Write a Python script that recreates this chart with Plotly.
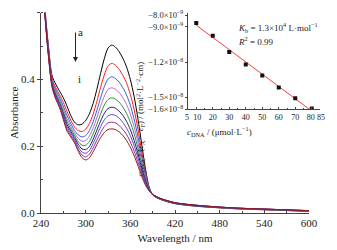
import numpy as np
import plotly.graph_objects as go

# ---------------- main spectra data ----------------
wavelength = [240, 245, 250, 255, 260, 265, 270, 275, 280, 285, 290, 295, 300, 305, 310,
              315, 320, 325, 330, 335, 340, 345, 350, 355, 360, 365, 370, 375, 380, 385,
              390, 400, 420, 450, 500, 550, 600]

abs_a = [0.800, 0.620, 0.500, 0.410, 0.385, 0.365, 0.345, 0.320, 0.292, 0.272, 0.264, 0.266, 0.277, 0.297, 0.328,
         0.370, 0.418, 0.462, 0.494, 0.503, 0.497, 0.483, 0.463, 0.437, 0.400, 0.350, 0.285, 0.210, 0.137, 0.080,
         0.054, 0.041, 0.028, 0.020, 0.013, 0.009, 0.005]
abs_b = [0.796, 0.616, 0.493, 0.402, 0.375, 0.354, 0.331, 0.304, 0.278, 0.258, 0.247, 0.244, 0.251, 0.268, 0.296,
         0.334, 0.376, 0.413, 0.440, 0.448, 0.443, 0.430, 0.412, 0.389, 0.355, 0.311, 0.254, 0.188, 0.126, 0.077,
         0.055, 0.042, 0.029, 0.021, 0.013, 0.009, 0.005]
abs_c = [0.792, 0.612, 0.489, 0.397, 0.368, 0.346, 0.320, 0.292, 0.268, 0.248, 0.234, 0.228, 0.232, 0.247, 0.273,
         0.307, 0.345, 0.378, 0.401, 0.408, 0.403, 0.392, 0.375, 0.353, 0.323, 0.282, 0.231, 0.173, 0.117, 0.075,
         0.055, 0.043, 0.029, 0.021, 0.014, 0.010, 0.006]
abs_d = [0.790, 0.610, 0.485, 0.392, 0.362, 0.340, 0.312, 0.282, 0.259, 0.240, 0.224, 0.215, 0.217, 0.230, 0.254,
         0.286, 0.320, 0.349, 0.370, 0.375, 0.371, 0.361, 0.345, 0.325, 0.296, 0.259, 0.213, 0.160, 0.110, 0.073,
         0.055, 0.043, 0.030, 0.022, 0.014, 0.010, 0.006]
abs_e = [0.787, 0.607, 0.481, 0.388, 0.357, 0.334, 0.304, 0.273, 0.252, 0.233, 0.214, 0.203, 0.203, 0.214, 0.237,
         0.266, 0.296, 0.323, 0.340, 0.345, 0.341, 0.332, 0.317, 0.298, 0.272, 0.238, 0.196, 0.148, 0.104, 0.072,
         0.055, 0.043, 0.030, 0.022, 0.014, 0.010, 0.006]
abs_f = [0.785, 0.605, 0.478, 0.384, 0.352, 0.328, 0.297, 0.265, 0.245, 0.226, 0.206, 0.192, 0.190, 0.199, 0.221,
         0.248, 0.275, 0.298, 0.313, 0.317, 0.314, 0.305, 0.292, 0.274, 0.250, 0.218, 0.180, 0.137, 0.099, 0.070,
         0.055, 0.044, 0.030, 0.022, 0.015, 0.011, 0.007]
abs_g = [0.783, 0.603, 0.475, 0.381, 0.348, 0.324, 0.291, 0.258, 0.239, 0.221, 0.198, 0.183, 0.179, 0.187, 0.208,
         0.233, 0.258, 0.279, 0.291, 0.295, 0.292, 0.284, 0.271, 0.254, 0.232, 0.202, 0.167, 0.129, 0.094, 0.069,
         0.055, 0.044, 0.031, 0.023, 0.015, 0.011, 0.007]
abs_h = [0.782, 0.602, 0.472, 0.378, 0.344, 0.319, 0.285, 0.251, 0.233, 0.215, 0.191, 0.174, 0.168, 0.176, 0.195,
         0.218, 0.240, 0.259, 0.270, 0.272, 0.270, 0.262, 0.250, 0.235, 0.213, 0.186, 0.154, 0.120, 0.089, 0.068,
         0.055, 0.044, 0.031, 0.023, 0.015, 0.011, 0.007]
abs_i = [0.780, 0.600, 0.470, 0.375, 0.340, 0.315, 0.280, 0.245, 0.228, 0.210, 0.185, 0.166, 0.159, 0.165, 0.183,
         0.205, 0.225, 0.241, 0.250, 0.252, 0.250, 0.243, 0.232, 0.217, 0.197, 0.172, 0.143, 0.112, 0.085, 0.067,
         0.056, 0.044, 0.031, 0.023, 0.015, 0.011, 0.007]

series = [abs_a, abs_b, abs_c, abs_d, abs_e, abs_f, abs_g, abs_h, abs_i]
series_names = ["a", "b", "c", "d", "e", "f", "g", "h", "i"]
colors = ["#000000", "#ff1a1a", "#2a62d6", "#b466d6", "#2e8b3c",
          "#1c1c66", "#5a46cc", "#8e2aa0", "#8b1a1a"]

x_ticks = [240, 300, 360, 420, 480, 540, 600]
y_ticks = [0.0, 0.2, 0.4, 0.6]

# ---------------- inset data ----------------
c_dna = [10, 20, 30, 40, 50, 60, 70, 80]
ratio = [-8.67e-9, -9.75e-9, -1.114e-8, -1.219e-8, -1.314e-8, -1.414e-8, -1.506e-8, -1.594e-8]
inset_x_ticks = [5, 10, 20, 30, 40, 50, 60, 70, 80, 85]
inset_x_ticktext = ["5\u00a0", "\u00a010", "20", "30", "40", "50", "60", "70",
                    "80\u00a0", "\u00a085"]
inset_y_tickvals = [-8.0e-9, -9.0e-9, -1.2e-8, -1.5e-8, -1.6e-8]
inset_y_ticktext = ["−8.0×10<sup>−9</sup>", "−9.0×10<sup>−9</sup>", "−1.2×10<sup>−8</sup>",
                    "−1.5×10<sup>−8</sup>", "−1.6×10<sup>−8</sup>"]

FONT = "Liberation Serif, Times New Roman, DejaVu Serif, serif"

fig = go.Figure()
for vals, name, col in zip(series, series_names, colors):
    fig.add_trace(go.Scatter(x=wavelength, y=vals, mode="lines", name=name,
                             line=dict(color=col, width=1, shape="spline", smoothing=0.8),
                             xaxis="x", yaxis="y", showlegend=False))

# inset
slope, intercept = np.polyfit(c_dna, ratio, 1)
fit_x = np.array([9.0, 81.0])
fig.add_trace(go.Scatter(x=fit_x, y=slope * fit_x + intercept, mode="lines",
                         line=dict(color="#ff3b3b", width=1), xaxis="x2", yaxis="y2",
                         showlegend=False))
fig.add_trace(go.Scatter(x=c_dna, y=ratio, mode="markers",
                         marker=dict(symbol="square", size=4, color="#111111"),
                         xaxis="x2", yaxis="y2", showlegend=False))

# geometry in window pixels; page body has an 8px margin
OFF = 8
W, H = 337, 250
# desired paper area in window coords: x 41..322, y 10..213
WL, WR, WT, WB = 41, 322, 10, 213
L = WL - OFF
T = WT - OFF
R = W - (WR - OFF)
B = H - (WB - OFF)
pw = WR - WL
ph = WB - WT


def px(x):
    return (x - WL) / pw


def py(y):
    return (WB - y) / ph


axis_common = dict(showline=True, linecolor="#444", linewidth=1, showgrid=False,
                   zeroline=False, tickcolor="#444", mirror=False, automargin=False)

fig.update_layout(
    width=W, height=H,
    margin=dict(l=L, r=R, t=T, b=B, autoexpand=False),
    paper_bgcolor="white", plot_bgcolor="rgba(0,0,0,0)",
    font=dict(family=FONT, size=11, color="#222"),
    xaxis=dict(domain=[0, px(309)], range=[240, 600], tickvals=x_ticks,
               ticks="inside", ticklen=3,
               minor=dict(dtick=30, tick0=240, ticks="inside", ticklen=2, tickcolor="#444"),
               title=dict(text="Wavelength / nm", font=dict(size=11, family=FONT), standoff=6),
               tickfont=dict(size=11, family=FONT), **axis_common),
    yaxis=dict(domain=[0, py(12.7)], range=[0, 0.6], tickvals=y_ticks, tickformat=".1f",
               ticks="outside", ticklen=3,
               minor=dict(dtick=0.1, tick0=0, ticks="inside", ticklen=2, tickcolor="#444"),
               title=dict(text="Absorbance", font=dict(size=11, family=FONT), standoff=6),
               tickfont=dict(size=11, family=FONT), **axis_common),
    xaxis2=dict(domain=[px(188), px(320)], range=[5, 85], tickvals=inset_x_ticks,
                ticktext=inset_x_ticktext,
                ticks="inside", ticklen=2, tickangle=0,
                minor=dict(dtick=5, tick0=5, ticks="inside", ticklen=1.5, tickcolor="#444"),
                tickfont=dict(size=8, family=FONT), anchor="y2", ticklabelstandoff=0, **axis_common),
    yaxis2=dict(domain=[py(109.3), py(13)], range=[-1.6e-8, -7.83e-9],
                tickvals=inset_y_tickvals, ticktext=inset_y_ticktext,
                ticks="outside", ticklen=2, tickfont=dict(size=8.5, family=FONT), anchor="x2",
                ticklabelstandoff=0, **axis_common),
)

annotations = [
    dict(text="a", x=px(75.5), y=py(24), xref="paper", yref="paper", showarrow=False,
         font=dict(size=11, family=FONT)),
    dict(text="i", x=px(75.5), y=py(71), xref="paper", yref="paper", showarrow=False,
         font=dict(size=11, family=FONT)),
    dict(text="", x=px(75.5), y=py(62), ax=0, ay=-31, xref="paper", yref="paper",
         axref="pixel", ayref="pixel", showarrow=True, arrowhead=2, arrowsize=1,
         arrowwidth=1, arrowcolor="#222"),
    dict(text="<i>K</i><sub>b</sub> = 1.3×10<sup>4</sup> L·mol<sup>−1</sup>",
         x=px(236), y=py(19), xref="paper", yref="paper", xanchor="left", showarrow=False,
         font=dict(size=9, family=FONT)),
    dict(text="<i>R</i><sup>2</sup> = 0.99",
         x=px(236), y=py(33), xref="paper", yref="paper", xanchor="left", showarrow=False,
         font=dict(size=9, family=FONT)),
    dict(text="<i>c</i><sub>DNA</sub> / (μmol·L<sup>−1</sup>)",
         x=px(254), y=py(132), xref="paper", yref="paper", showarrow=False,
         font=dict(size=9, family=FONT)),
    dict(text="<i>c</i><sub>DNA</sub> / (<i>ε</i><sub>A</sub> − <i>ε</i><sub>F</sub>) / (mol<sup>2</sup>·L<sup>−2</sup>·cm)",
         x=px(140), y=py(60), xref="paper", yref="paper", showarrow=False, textangle=-90,
         font=dict(size=9, family=FONT)),
]
fig.update_layout(annotations=annotations)

fig.write_html("out.html")
